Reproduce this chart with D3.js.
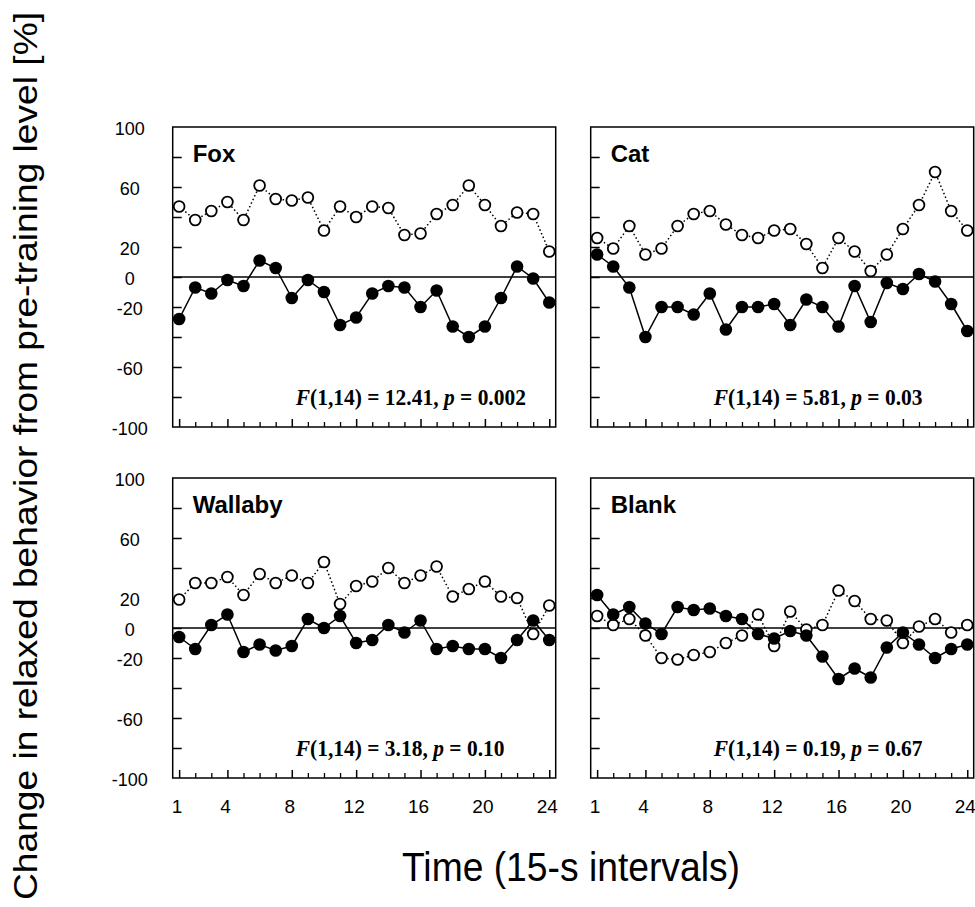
<!DOCTYPE html>
<html>
<head>
<meta charset="utf-8">
<script src="https://cdn.jsdelivr.net/npm/d3@7"></script>
<style>
body { margin: 0; background: #fff; }
</style>
</head>
<body>
<div id="chart"></div>
<script>

const intervals = [1, 2, 3, 4, 5, 6, 7, 8, 9, 10, 11, 12, 13, 14, 15, 16, 17, 18, 19, 20, 21, 22, 23, 24];

// open circles (dotted line)
const foxOpen = [47, 38, 44, 50, 38, 61, 52, 51, 53, 31, 47, 40, 47, 46, 28, 29, 42, 48, 61, 48, 34, 43, 42, 17];
const catOpen = [26, 19, 34, 15, 19, 34, 42, 44, 35, 28, 26, 31, 32, 22, 6, 26, 17, 4, 15, 32, 48, 70, 44, 31];
const wallabyOpen = [19, 30, 30, 34, 22, 36, 30, 35, 30, 44, 16, 28, 31, 40, 30, 35, 41, 21, 26, 31, 21, 20, -4, 15];
const blankOpen = [8, 2, 6, -5, -20, -21, -18, -16, -10, -5, 9, -12, 11, -1, 2, 25, 18, 6, 5, -10, 1, 6, -3, 2];

// filled circles (solid line)
const foxFilled = [-28, -7, -11, -2, -6, 11, 6, -14, -2, -10, -32, -27, -11, -6, -7, -20, -9, -33, -40, -33, -14, 7, -1, -17];
const catFilled = [15, 7, -7, -40, -20, -20, -25, -11, -35, -20, -20, -18, -32, -15, -20, -33, -6, -30, -4, -8, 2, -3, -18, -36];
const wallabyFilled = [-6, -14, 2, 9, -16, -11, -15, -12, 6, 0, 8, -10, -8, 2, -3, 5, -14, -12, -14, -14, -20, -8, 5, -8];
const blankFilled = [22, 9, 14, 3, -4, 14, 12, 13, 8, 6, -4, -7, -2, -5, -19, -34, -27, -33, -13, -3, -11, -20, -14, -11];

const panelNames = ["Fox", "Cat", "Wallaby", "Blank"];
const fValues = ["12.41", "5.81", "3.18", "0.19"];
const pValues = ["0.002", "0.03", "0.10", "0.67"];

const yTickLabels = [100, 60, 20, 0, -20, -60, -100];
const yTicks = [-80, -60, -40, -20, 0, 20, 40, 60, 80];
const xTickLabels = [1, 4, 8, 12, 16, 20, 24];

const openSeries = [foxOpen, catOpen, wallabyOpen, blankOpen];
const filledSeries = [foxFilled, catFilled, wallabyFilled, blankFilled];

const width = 975, height = 907;
const colLeft = [172.7, 590.7];
const rowTop = [127, 478];
const panelW = 383, panelH = 300;

const sans = "'Liberation Sans', Arial, Helvetica, sans-serif";
const serif = "'Liberation Serif', 'Times New Roman', serif";

let svg = d3
    .select("#chart")
    .append("svg")
    .attr("width", width)
    .attr("height", height)
    .style("display", "block");

for (let i = 0; i < panelNames.length; i++) {
    drawPanel(i);
}

// axis titles
svg.append("text")
    .attr("transform", "translate(37," + 456 + ") rotate(-90)")
    .attr("text-anchor", "middle")
    .attr("textLength", 888)
    .attr("lengthAdjust", "spacingAndGlyphs")
    .style("font-family", sans)
    .style("font-size", "33px")
    .text("Change in relaxed behavior from pre-training level [%]");

svg.append("text")
    .attr("x", 571)
    .attr("y", 881)
    .attr("text-anchor", "middle")
    .attr("textLength", 338)
    .attr("lengthAdjust", "spacingAndGlyphs")
    .style("font-family", sans)
    .style("font-size", "40px")
    .text("Time (15-s intervals)");

function drawPanel(i) {
    const col = i % 2;
    const row = Math.floor(i / 2);
    const left = colLeft[col];
    const top = rowTop[row];

    let xScale = d3
        .scaleLinear()
        .domain([0.6, 24.4])
        .range([left, left + panelW]);

    let yScale = d3
        .scaleLinear()
        .domain([-100, 100])
        .range([top + panelH, top]);

    let g = svg.append("g");

    // left ticks, pointing inward
    g.append("g")
        .attr("transform", "translate(" + left + ",0)")
        .call(d3.axisRight(yScale).tickValues(yTicks).tickSize(9).tickFormat(""))
        .call(a => a.select(".domain").remove())
        .selectAll("line")
        .attr("stroke-width", 1.5);

    // bottom ticks: minor and major
    g.append("g")
        .attr("transform", "translate(0," + (top + panelH) + ")")
        .call(d3.axisTop(xScale)
            .tickValues(intervals.filter(d => xTickLabels.indexOf(d) < 0))
            .tickSize(5).tickFormat(""))
        .call(a => a.select(".domain").remove())
        .selectAll("line")
        .attr("stroke-width", 1.3);

    g.append("g")
        .attr("transform", "translate(0," + (top + panelH) + ")")
        .call(d3.axisTop(xScale).tickValues(xTickLabels).tickSize(8).tickFormat(""))
        .call(a => a.select(".domain").remove())
        .selectAll("line")
        .attr("stroke-width", 1.5);

    if (col == 0) {
        g.selectAll(".ylab")
            .data(yTickLabels)
            .enter()
            .append("text")
            .attr("x", left - 43)
            .attr("y", d => yScale(d) + 2)
            .attr("dy", "0.35em")
            .attr("text-anchor", "middle")
            .style("font-family", sans)
            .style("font-size", "18px")
            .text(d => d);
    }

    if (row == 1) {
        g.selectAll(".xlab")
            .data(xTickLabels)
            .enter()
            .append("text")
            .attr("x", d => xScale(d) - 2)
            .attr("y", top + panelH + 35)
            .attr("text-anchor", "middle")
            .style("font-family", sans)
            .style("font-size", "19px")
            .text(d => d);
    }

    // zero line
    g.append("line")
        .attr("x1", left)
        .attr("x2", left + panelW)
        .attr("y1", yScale(0))
        .attr("y2", yScale(0))
        .attr("stroke", "black")
        .attr("stroke-width", 1.5);

    const line = d3.line()
        .x((d, j) => xScale(intervals[j]))
        .y(d => yScale(d));

    g.append("path")
        .datum(openSeries[i])
        .attr("d", line)
        .attr("fill", "none")
        .attr("stroke", "black")
        .attr("stroke-width", 1.5)
        .attr("stroke-dasharray", "1.5,2.5");

    g.append("path")
        .datum(filledSeries[i])
        .attr("d", line)
        .attr("fill", "none")
        .attr("stroke", "black")
        .attr("stroke-width", 1.5);

    g.selectAll(".open")
        .data(openSeries[i])
        .enter()
        .append("circle")
        .attr("cx", (d, j) => xScale(intervals[j]))
        .attr("cy", d => yScale(d))
        .attr("r", 5.4)
        .style("fill", "white")
        .attr("stroke", "black")
        .attr("stroke-width", 1.8);

    g.selectAll(".filled")
        .data(filledSeries[i])
        .enter()
        .append("circle")
        .attr("cx", (d, j) => xScale(intervals[j]))
        .attr("cy", d => yScale(d))
        .attr("r", 6.3)
        .style("fill", "black");

    // frame
    g.append("rect")
        .attr("x", left)
        .attr("y", top)
        .attr("width", panelW)
        .attr("height", panelH)
        .attr("fill", "none")
        .attr("stroke", "black")
        .attr("stroke-width", 1.5);

    g.append("text")
        .attr("x", left + 20)
        .attr("y", top + 35)
        .style("font-family", sans)
        .style("font-weight", "bold")
        .style("font-size", "24px")
        .text(panelNames[i]);

    // statistics, squeezed horizontally like the original typesetting
    let stat = g.append("text")
        .attr("transform", "translate(" + (left + 123) + "," + (top + panelH - 22) + ") scale(0.895,1)")
        .style("font-family", serif)
        .style("font-weight", "bold")
        .style("font-size", "24px");
    stat.append("tspan").style("font-style", "italic").text("F");
    stat.append("tspan").text("(1,14) = " + fValues[i] + ", ");
    stat.append("tspan").style("font-style", "italic").text("p");
    stat.append("tspan").text(" = " + pValues[i]);
}
</script>
</body>
</html>
